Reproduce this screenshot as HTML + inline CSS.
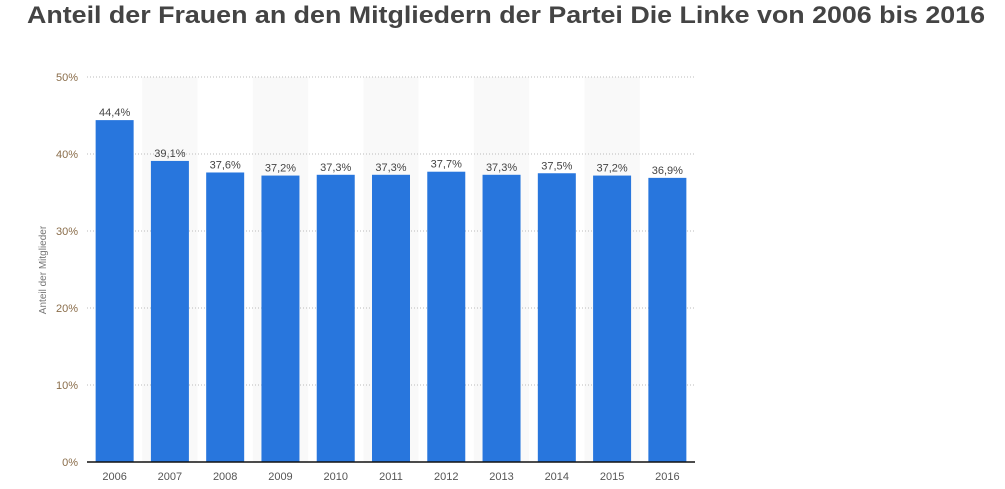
<!DOCTYPE html>
<html><head><meta charset="utf-8"><style>
body{margin:0;background:#fff;width:1005px;height:489px;overflow:hidden;font-family:"Liberation Sans",sans-serif}
h1{position:absolute;left:27px;top:-1px;margin:0;font-size:24px;font-weight:bold;color:#444;white-space:nowrap;line-height:34px;transform-origin:0 0}
</style></head><body>
<h1 id="t">Anteil der Frauen an den Mitgliedern der Partei Die Linke von 2006 bis 2016</h1>
<svg id="c" width="1005" height="489" style="position:absolute;left:0;top:0"></svg>
<script>
const categories=["2006","2007","2008","2009","2010","2011","2012","2013","2014","2015","2016"];
const values=[44.4,39.1,37.6,37.2,37.3,37.3,37.7,37.3,37.5,37.2,36.9];
const ticks=[0,10,20,30,40,50];
const tt=document.getElementById('t');tt.style.transform='scaleX('+(958/tt.getBoundingClientRect().width)+')';
const svg=document.getElementById('c');const NS="http://www.w3.org/2000/svg";
const x0=87,x1=695,y0=462,y1=77,bw=(x1-x0)/categories.length;
const y=v=>y0-(v/50)*(y0-y1);
function el(t,a,p){const e=document.createElementNS(NS,t);for(const k in a)e.setAttribute(k,a[k]);(p||svg).appendChild(e);return e;}
categories.forEach((c,i)=>{if(i%2==1){const r=el('rect',{x:x0+i*bw,y:y1,width:bw,height:y0-y1,fill:'#f9f9f9'});

}});
ticks.forEach(t=>{if(t>0){const l=el('line',{x1:x0,x2:x1,y1:y(t),y2:y(t),stroke:'#bbb','stroke-dasharray':'1,2'});

}
const tx=el('text',{x:78,y:y(t)+4,'text-anchor':'end','font-size':11,fill:'#8a6d4a'});tx.textContent=t+'%';

});
categories.forEach((c,i)=>{const cx=x0+(i+0.5)*bw;
const b=el('rect',{x:cx-19,y:y(values[i]),width:38,height:y0-y(values[i]),fill:'#2876dd'});


const lb=el('text',{x:cx,y:y(values[i])-4,'text-anchor':'middle','font-size':11,fill:'#444'});lb.textContent=values[i].toFixed(1).replace('.',',')+'%';


const xl=el('text',{x:cx,y:480,'text-anchor':'middle','font-size':11,fill:'#555'});xl.textContent=c;

});
const ax=el('line',{x1:x0,x2:x1,y1:y0,y2:y0,stroke:'#111','stroke-width':1.5});


const yt=el('text',{x:0,y:0,'text-anchor':'middle','font-size':10,fill:'#777',transform:'translate(46,270) rotate(-90)'});yt.textContent='Anteil der Mitglieder';


</script>
</body></html>
